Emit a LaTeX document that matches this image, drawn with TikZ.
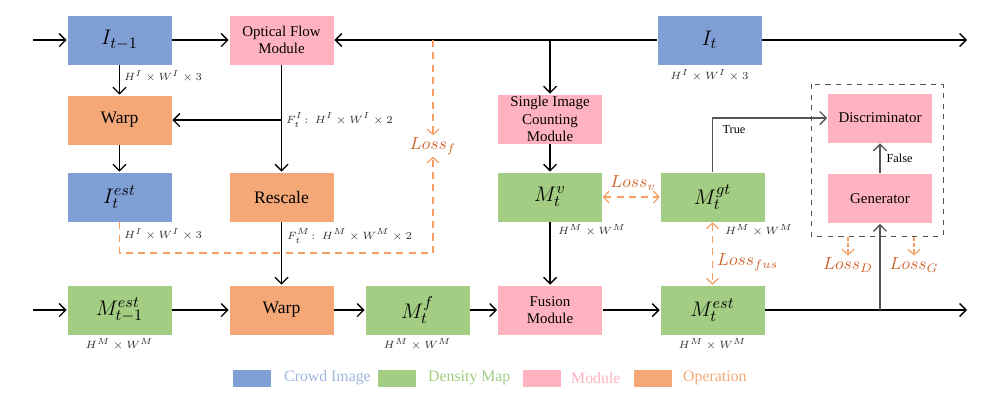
\documentclass[tikz,border=0pt]{standalone}
\usepackage{fontspec}
\setmainfont{Liberation Serif}
\usetikzlibrary{arrows.meta}

\definecolor{imgblue}{HTML}{7F9FD5}
\definecolor{mapgreen}{HTML}{A2CD83}
\definecolor{modpink}{HTML}{FFB3C1}
\definecolor{oporange}{HTML}{F4A877}
\definecolor{lossred}{HTML}{D0622B}
\definecolor{lossdash}{HTML}{F4A064}
\definecolor{gangray}{HTML}{555555}

\tikzset{
  blk/.style={minimum width=21mm, minimum height=10mm, inner sep=1pt,
    align=center, draw=white, line width=0.3pt},
  img/.style={blk, fill=imgblue, font=\fontsize{12.5}{13}\selectfont},
  dmap/.style={blk, fill=mapgreen, font=\fontsize{12.5}{13}\selectfont},
  modl/.style={blk, fill=modpink, font=\fontsize{8.5}{10}\selectfont},
  oper/.style={blk, fill=oporange, font=\fontsize{10}{11}\selectfont},
  dimlbl/.style={font=\fontsize{6.5}{7}\selectfont, text=black!80, inner sep=1pt},
  losslbl/.style={font=\fontsize{10}{11}\selectfont, text=lossred, inner sep=1pt},
  flow/.style={line width=0.8pt, -{Straight Barb[length=1.3mm,width=2.6mm]}},
  lossflow/.style={lossdash, line width=0.7pt, dash pattern=on 4pt off 3pt},
  legbox/.style={minimum width=7.8mm, minimum height=3.6mm, inner sep=0pt, draw=white}
}

\begin{document}
\begin{tikzpicture}[x=0.2mm, y=-0.2mm]
  \useasboundingbox (0,0) rectangle (1000,400);

  % top row
  \node[img] (itm) at (119.5,40) {$I_{t-1}$};
  \node[modl] (ofm) at (281.5,40) {Optical Flow\\Module};
  \node[img] (it) at (709.5,40) {$I_t$};
  \coordinate (topin) at (33,40);
  \coordinate (topout) at (967,40);

  % optical flow branch
  \node[oper] (warpi) at (119.5,120) {Warp};
  \node[img] (iest) at (119.5,197) {$I_t^{est}$};
  \node[oper] (rescale) at (281.5,197) {Rescale};
  \node[losslbl] (lossf) at (433,146) {$Loss_f$};

  % counting branch
  \node[modl] (sicm) at (550,119) {Single Image\\Counting\\Module};
  \node[dmap] (mv) at (550,197) {$M_t^v$};
  \node[dmap] (mgt) at (712.5,197) {$M_t^{gt}$};

  % bottom row
  \node[dmap] (mprev) at (119.5,310) {$M_{t-1}^{est}$};
  \node[oper] (warpm) at (281.5,310) {Warp};
  \node[dmap] (mf) at (417.5,310) {$M_t^f$};
  \node[modl] (fusion) at (550,310) {Fusion\\Module};
  \node[dmap] (mest) at (712.5,310) {$M_t^{est}$};
  \coordinate (botin) at (33,310);
  \coordinate (botout) at (967,310);

  % gan
  \node[modl] (disc) at (880,118) {Discriminator};
  \node[modl] (gen) at (880,198.5) {Generator};
  \draw[gangray, dashed, line width=0.5pt] (811,84) rectangle (943,236);
  \node[losslbl] (lossd) at (848,265) {$Loss_D$};
  \node[losslbl] (lossg) at (914,265) {$Loss_G$};

  % connectors
  \begin{scope}[flow]
    \draw (topin) -- (itm);
    \draw (itm) -- (ofm);
    \draw (it) -- (ofm);
    \draw (it) -- (topout);
    \draw (550,40) -- (sicm);
    \draw (itm) -- (warpi);
    \draw (ofm) -- (rescale);
    \draw (281.5,120) -- (warpi);
    \draw (warpi) -- (iest);
    \draw (rescale) -- (warpm);
    \draw (sicm) -- (mv);
    \draw (mv) -- (fusion);
    \draw (botin) -- (mprev);
    \draw (mprev) -- (warpm);
    \draw (warpm) -- (mf);
    \draw (mf) -- (fusion);
    \draw (fusion) -- (mest);
    \draw (mest) -- (botout);
  \end{scope}
  \begin{scope}[flow, gangray]
    \draw (mgt.north) |- (disc);
    \draw (880,310) -- (gen);
    \draw (gen) -- node[right, font=\fontsize{7}{8}\selectfont, text=black] {False} (disc);
  \end{scope}
  \node[font=\fontsize{7}{8}\selectfont] (truelbl) at (734,130) {True};

  % losses
  \begin{scope}[lossflow]
    \draw[-{Straight Barb[length=1.1mm,width=2.4mm]}] (433,40) -- (lossf);
    \draw[-{Straight Barb[length=1.1mm,width=2.4mm]}] (iest.south) |- (433,253) -- (lossf);
    \draw[{Straight Barb[length=1.1mm,width=2.4mm]}-{Straight Barb[length=1.1mm,width=2.4mm]}] (mv) -- (mgt);
    \draw[{Straight Barb[length=1.1mm,width=2.4mm]}-{Straight Barb[length=1.1mm,width=2.4mm]}] (mgt) -- (mest);
    \draw[dash pattern=on 2pt off 1.5pt, -{Straight Barb[length=1.1mm,width=2.4mm]}] (848,237) -- (lossd);
    \draw[dash pattern=on 2pt off 1.5pt, -{Straight Barb[length=1.1mm,width=2.4mm]}] (914,237) -- (lossg);
  \end{scope}
  \node[losslbl] (lossv) at (633,183) {$Loss_v$};
  \node[losslbl, anchor=west] (lossfus) at (715,262) {$Loss_{fus}$};

  % dimension labels
  \node[dimlbl, anchor=west] (d1) at (122,76) {$H^I\times W^I\times 3$};
  \node[dimlbl, anchor=west] (d2) at (284,120) {$F_t^I\!:\ H^I\times W^I\times 2$};
  \node[dimlbl, anchor=west] (d3) at (122,234) {$H^I\times W^I\times 3$};
  \node[dimlbl, anchor=west] (d4) at (285,236) {$F_t^M\!:\ H^M\times W^M\times 2$};
  \node[dimlbl] (d5) at (709.5,75) {$H^I\times W^I\times 3$};
  \node[dimlbl, anchor=west] (d6) at (556,230) {$H^M\times W^M$};
  \node[dimlbl, anchor=west] (d7) at (723,230) {$H^M\times W^M$};
  \node[dimlbl] (d8) at (119.5,344) {$H^M\times W^M$};
  \node[dimlbl] (d9) at (417.5,344) {$H^M\times W^M$};
  \node[dimlbl] (d10) at (712.5,344) {$H^M\times W^M$};

  % legend
  \node[legbox, fill=imgblue] (lg1) at (252,378) {};
  \node[anchor=west, text=imgblue!75, font=\fontsize{9}{10}\selectfont] (lt1) at (278,378) {Crowd Image};
  \node[legbox, fill=mapgreen] (lg2) at (396.5,378) {};
  \node[anchor=west, text=mapgreen, font=\fontsize{9}{10}\selectfont] (lt2) at (422,378) {Density Map};
  \node[legbox, fill=modpink] (lg3) at (541.5,378) {};
  \node[anchor=west, text=modpink, font=\fontsize{9}{10}\selectfont] (lt3) at (565,378) {Module};
  \node[legbox, fill=oporange] (lg4) at (653,378) {};
  \node[anchor=west, text=oporange, font=\fontsize{9}{10}\selectfont] (lt4) at (677,378) {Operation};
\end{tikzpicture}
\end{document}
